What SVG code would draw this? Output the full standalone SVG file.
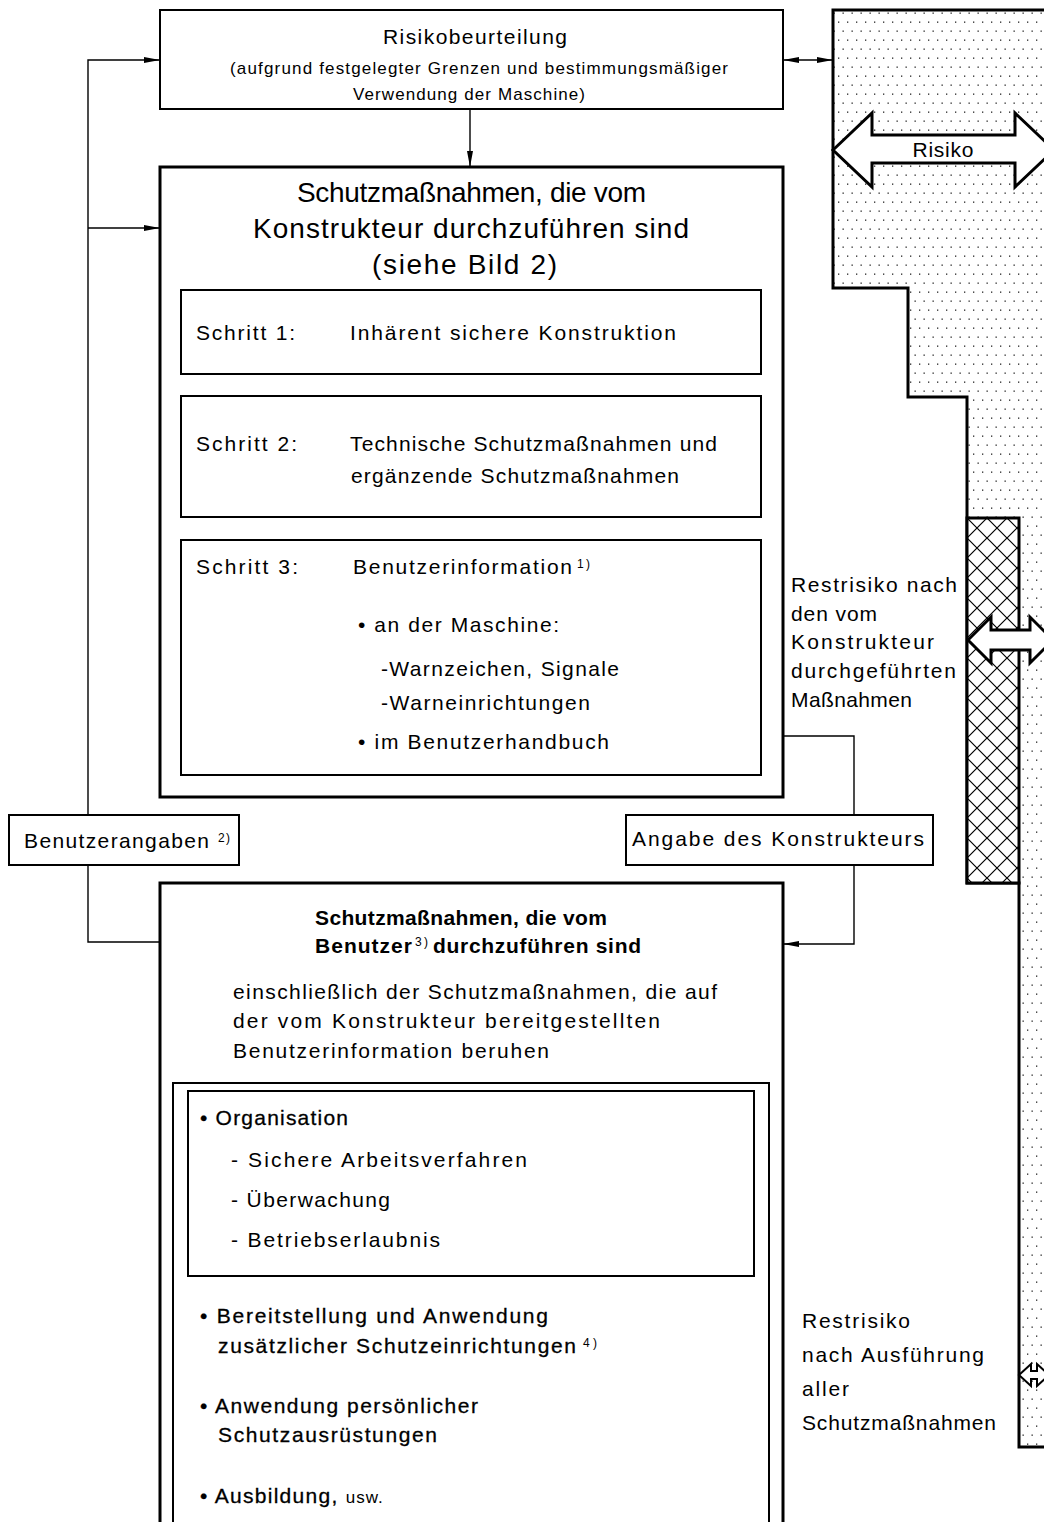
<svg xmlns="http://www.w3.org/2000/svg" width="1044" height="1522" viewBox="0 0 1044 1522">
<style>
text{font-family:"Liberation Sans",Arial,sans-serif;fill:#000}
.t{font-size:21px}
.s{font-size:17px}
.h{font-size:21px}
.big{font-size:28px}
.sup{font-size:12px}
.b{font-weight:bold}
.m{stroke:#000;stroke-width:0.3px}
.c{text-anchor:middle}
.box2{fill:#fff;stroke:#000;stroke-width:2}
.box3{fill:#fff;stroke:#000;stroke-width:3}
.ln{fill:none;stroke:#000;stroke-width:1.4}
</style>
<defs>
<pattern id="dots" patternUnits="userSpaceOnUse" width="9" height="18">
<rect x="1" y="3.5" width="1.3" height="1.3" fill="#222"/>
<rect x="5.5" y="12.5" width="1.3" height="1.3" fill="#222"/>
</pattern>
<pattern id="hatch" patternUnits="userSpaceOnUse" width="20" height="20" x="967" y="518">
<path d="M0,0 L20,20 M20,0 L0,20" stroke="#000" stroke-width="1.2" fill="none"/>
</pattern>
<marker id="ah" viewBox="0 0 16 6" refX="16" refY="3" markerWidth="16" markerHeight="6" markerUnits="userSpaceOnUse" orient="auto-start-reverse">
<path d="M0,0 L16,3 L0,6 Z" fill="#000"/>
</marker>
</defs>
<rect width="1044" height="1522" fill="#fff"/>

<g id="risk-area">
<polygon points="833,10 1050,10 1050,1447 1019,1447 1019,883 967,883 967,397 908,397 908,288 833,288" fill="url(#dots)" stroke="#000" stroke-width="3"/>
<rect x="967" y="518" width="52" height="365" fill="#fff" stroke="none"/>
<rect x="967" y="518" width="52" height="365" fill="url(#hatch)" stroke="#000" stroke-width="3"/>
<polygon points="833,150 872,113 872,135 1015,135 1015,113 1054,150 1015,187 1015,163 872,163 872,187" fill="#fff" stroke="#000" stroke-width="3"/>
<text class="h c" x="943" y="157" textLength="61" lengthAdjust="spacing">Risiko</text>
<polygon points="968,640 991,617 991,630 1030,630 1030,617 1053,640 1030,663 1030,650 991,650 991,663" fill="#fff" stroke="#000" stroke-width="3"/>
<polygon points="1019,1375 1031,1364 1031,1371 1037,1371 1037,1364 1049,1375 1037,1386 1037,1379 1031,1379 1031,1386" fill="#fff" stroke="#000" stroke-width="2"/>
</g>

<g id="connectors">
<path class="ln" d="M88,815 V60 H160" marker-end="url(#ah)"/>
<path class="ln" d="M88,228 H160" marker-end="url(#ah)"/>
<path class="ln" d="M88,865 V942 H160"/>
<path class="ln" d="M470,109 V167" marker-end="url(#ah)"/>
<path class="ln" d="M783,60 H833" marker-start="url(#ah)" marker-end="url(#ah)"/>
<path class="ln" d="M783,736 H854 V815"/>
<path class="ln" d="M854,865 V944 H783" marker-end="url(#ah)"/>
</g>

<g id="risikobeurteilung">
<rect class="box2" x="160" y="10" width="623" height="99"/>
<text class="h" x="383" y="44" textLength="184" lengthAdjust="spacing">Risikobeurteilung</text>
<text class="s" x="230" y="74" textLength="498" lengthAdjust="spacing">(aufgrund festgelegter Grenzen und bestimmungsmäßiger</text>
<text class="s" x="353" y="100" textLength="232" lengthAdjust="spacing">Verwendung der Maschine)</text>
</g>

<g id="konstrukteur">
<rect class="box3" x="160" y="167" width="623" height="630"/>
<text class="big" x="297" y="202" textLength="349" lengthAdjust="spacing">Schutzmaßnahmen, die vom</text>
<text class="big" x="253" y="238" textLength="436" lengthAdjust="spacing">Konstrukteur durchzuführen sind</text>
<text class="big" x="372" y="274" textLength="185" lengthAdjust="spacing">(siehe Bild 2)</text>
</g>

<g id="schritt1">
<rect class="box2" x="181" y="290" width="580" height="84"/>
<text class="t" x="196" y="340" textLength="99" lengthAdjust="spacing">Schritt 1:</text>
<text class="t" x="350" y="340" textLength="326" lengthAdjust="spacing">Inhärent sichere Konstruktion</text>
</g>

<g id="schritt2">
<rect class="box2" x="181" y="396" width="580" height="121"/>
<text class="t" x="196" y="451" textLength="101" lengthAdjust="spacing">Schritt 2:</text>
<text class="t" x="350" y="451" textLength="367" lengthAdjust="spacing">Technische Schutzmaßnahmen und</text>
<text class="t" x="351" y="483" textLength="328" lengthAdjust="spacing">ergänzende Schutzmaßnahmen</text>
</g>

<g id="schritt3">
<rect class="box2" x="181" y="540" width="580" height="235"/>
<text class="t" x="196" y="574" textLength="102" lengthAdjust="spacing">Schritt 3:</text>
<text class="t" x="353" y="574" textLength="219" lengthAdjust="spacing">Benutzerinformation</text>
<text class="sup" x="577" y="568" textLength="13" lengthAdjust="spacing">1)</text>
<text class="t" x="358" y="632" textLength="201" lengthAdjust="spacing">• an der Maschine:</text>
<text class="t" x="381" y="676" textLength="238" lengthAdjust="spacing">-Warnzeichen, Signale</text>
<text class="t" x="381" y="710" textLength="209" lengthAdjust="spacing">-Warneinrichtungen</text>
<text class="t" x="358" y="749" textLength="251" lengthAdjust="spacing">• im Benutzerhandbuch</text>
</g>

<g id="restrisiko1">
<text class="t" x="791" y="592" textLength="166" lengthAdjust="spacing">Restrisiko nach</text>
<text class="t" x="791" y="621" textLength="86" lengthAdjust="spacing">den vom</text>
<text class="t" x="791" y="649" textLength="143" lengthAdjust="spacing">Konstrukteur</text>
<text class="t" x="791" y="678" textLength="165" lengthAdjust="spacing">durchgeführten</text>
<text class="t" x="791" y="707" textLength="121" lengthAdjust="spacing">Maßnahmen</text>
</g>

<g id="benutzerangaben">
<rect class="box2" x="9" y="815" width="230" height="50"/>
<text class="t" x="24" y="848" textLength="185" lengthAdjust="spacing">Benutzerangaben</text>
<text class="sup" x="218" y="842" textLength="12" lengthAdjust="spacing">2)</text>
</g>

<g id="angabe">
<rect class="box2" x="626" y="815" width="307" height="50"/>
<text class="t" x="632" y="846" textLength="292" lengthAdjust="spacing">Angabe des Konstrukteurs</text>
</g>

<g id="benutzer">
<rect class="box3" x="160" y="883" width="623" height="660"/>
<text class="h b" x="315" y="925" textLength="292" lengthAdjust="spacing">Schutzmaßnahmen, die vom</text>
<text class="h b" x="315" y="953" textLength="97" lengthAdjust="spacing">Benutzer</text>
<text class="sup" x="415" y="946" textLength="13" lengthAdjust="spacing">3)</text>
<text class="h b" x="433" y="953" textLength="208" lengthAdjust="spacing">durchzuführen sind</text>
<text class="t" x="233" y="999" textLength="484" lengthAdjust="spacing">einschließlich der Schutzmaßnahmen, die auf</text>
<text class="t" x="233" y="1028" textLength="427" lengthAdjust="spacing">der vom Konstrukteur bereitgestellten</text>
<text class="t" x="233" y="1058" textLength="316" lengthAdjust="spacing">Benutzerinformation beruhen</text>
<rect class="box2" x="173" y="1083" width="596" height="460"/>
<rect class="box2" x="188" y="1091" width="566" height="185"/>
<text class="t m" x="200" y="1125" textLength="148" lengthAdjust="spacing">• Organisation</text>
<text class="t" x="231" y="1167" textLength="296" lengthAdjust="spacing">- Sichere Arbeitsverfahren</text>
<text class="t" x="231" y="1207" textLength="159" lengthAdjust="spacing">- Überwachung</text>
<text class="t" x="231" y="1247" textLength="209" lengthAdjust="spacing">- Betriebserlaubnis</text>
<text class="t m" x="200" y="1323" textLength="348" lengthAdjust="spacing">• Bereitstellung und Anwendung</text>
<text class="t m" x="218" y="1353" textLength="358" lengthAdjust="spacing">zusätzlicher Schutzeinrichtungen</text>
<text class="sup" x="583" y="1347" textLength="14" lengthAdjust="spacing">4)</text>
<text class="t m" x="200" y="1413" textLength="278" lengthAdjust="spacing">• Anwendung persönlicher</text>
<text class="t m" x="218" y="1442" textLength="219" lengthAdjust="spacing">Schutzausrüstungen</text>
<text class="t m" x="200" y="1503" style="letter-spacing:1.3px">• Ausbildung, <tspan class="s" style="stroke-width:0;letter-spacing:1px">usw.</tspan></text>
</g>

<g id="restrisiko2">
<text class="t" x="802" y="1328" textLength="108" lengthAdjust="spacing">Restrisiko</text>
<text class="t" x="802" y="1362" textLength="182" lengthAdjust="spacing">nach Ausführung</text>
<text class="t" x="802" y="1396" textLength="47" lengthAdjust="spacing">aller</text>
<text class="t" x="802" y="1430" textLength="194" lengthAdjust="spacing">Schutzmaßnahmen</text>
</g>
</svg>
